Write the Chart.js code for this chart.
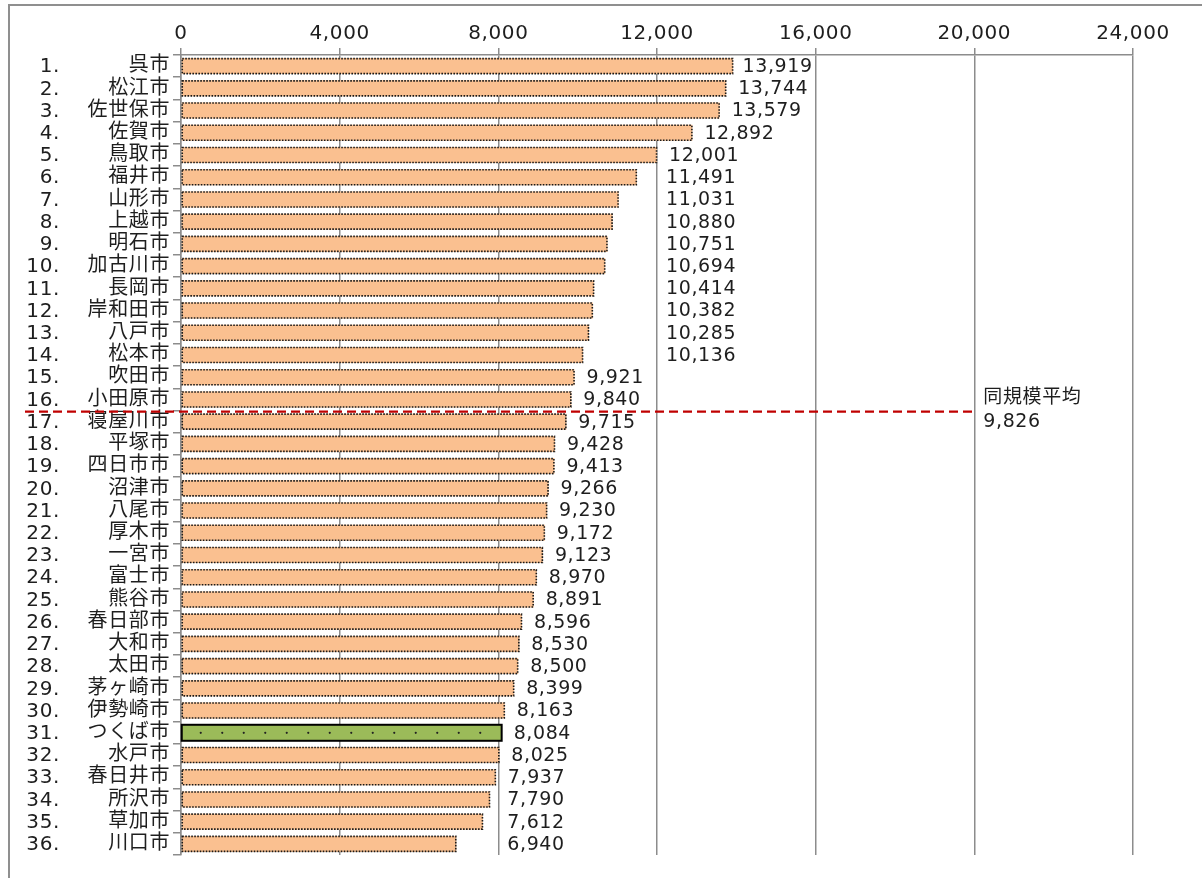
<!DOCTYPE html>
<html lang="ja">
<head>
<meta charset="utf-8">
<title>同規模都市比較</title>
<script src="https://cdn.jsdelivr.net/npm/chart.js@4.4.1/dist/chart.umd.min.js"></script>
<style>
  html, body { margin: 0; padding: 0; background: #fff; overflow: hidden; }
  #wrap { position: relative; width: 1202px; height: 878px; }
  #frame { position: absolute; left: 8px; top: 4px; width: 1400px; height: 1000px;
           border-left: 2px solid #8f8f8f; border-top: 2px solid #8f8f8f; pointer-events: none; }
  canvas { position: absolute; left: 0; top: 0; }
</style>
</head>
<body>
<div id="wrap">
  <canvas id="chart" width="1202" height="878"></canvas>
  <div id="frame"></div>
</div>
<script>
// ---- data ----
const cities = ['呉市','松江市','佐世保市','佐賀市','鳥取市','福井市','山形市','上越市','明石市','加古川市',
  '長岡市','岸和田市','八戸市','松本市','吹田市','小田原市','寝屋川市','平塚市','四日市市','沼津市',
  '八尾市','厚木市','一宮市','富士市','熊谷市','春日部市','大和市','太田市','茅ヶ崎市','伊勢崎市',
  'つくば市','水戸市','春日井市','所沢市','草加市','川口市'];
const values = [13919,13744,13579,12892,12001,11491,11031,10880,10751,10694,
  10414,10382,10285,10136,9921,9840,9715,9428,9413,9266,
  9230,9172,9123,8970,8891,8596,8530,8500,8399,8163,
  8084,8025,7937,7790,7612,6940];
const highlightCity = 'つくば市';
const averageLabel = '同規模平均';
const averageValue = 9826;
const xTickMin = 0;
const xTickMax = 24000;
const xTickStep = 4000;

// ---- styling ----
const FONT = "'DejaVu Sans', 'Noto Sans CJK JP', sans-serif";
const TEXT = '#1e1e1e';
const GRID = '#8c8c8c';
const BAR_FILL = '#FAC090';
const HI_FILL = '#9BBB59';
const fmt = v => Number(v).toLocaleString('en-US');

// Slightly wider text tracking for every label on the canvas
const tracking = {
  id: 'tracking',
  beforeDraw(chart) { chart.ctx.letterSpacing = '0.6px'; }
};

// Dotted outlines, highlight pattern and value labels for the bars
const barDecor = {
  id: 'barDecor',
  afterDatasetsDraw(chart) {
    const ctx = chart.ctx;
    const meta = chart.getDatasetMeta(0);
    const xs = chart.scales.x;
    const gridPx = xs.ticks.map(t => xs.getPixelForValue(t.value));
    ctx.save();
    meta.data.forEach((bar, i) => {
      const p = bar.getProps(['x', 'y', 'base', 'height'], true);
      const top = p.y - p.height / 2, h = p.height;
      const left = Math.min(p.base, p.x), w = Math.abs(p.x - p.base);
      if (cities[i] === highlightCity) {
        ctx.setLineDash([]);
        ctx.lineWidth = 2;
        ctx.strokeStyle = '#000';
        ctx.strokeRect(left, top, w, h);
        ctx.fillStyle = '#222';
        for (let dx = left + 19; dx < p.x - 2; dx += 21.5) {
          ctx.beginPath();
          ctx.arc(dx, p.y, 1.1, 0, Math.PI * 2);
          ctx.fill();
        }
      } else {
        ctx.setLineDash([1.6, 1.4]);
        ctx.lineWidth = 1.6;
        ctx.strokeStyle = '#1a1a1a';
        ctx.strokeRect(left + 0.5, top + 0.5, w - 1, h - 1);
      }
      // value label: kept clear of gridlines, pulled in or pushed past as room allows
      ctx.setLineDash([]);
      ctx.font = '19px ' + FONT;
      ctx.fillStyle = TEXT;
      ctx.textBaseline = 'middle';
      ctx.textAlign = 'left';
      const txt = fmt(values[i]);
      const tw = ctx.measureText(txt).width;
      let lx = p.x + 12;
      for (const g of gridPx) {
        if (g > p.x - 1 && lx < g + 9 && lx + tw > g - 2) {
          lx = (p.x + 6 + tw < g - 3) ? g - 3 - tw : g + 9;
        }
      }
      ctx.fillText(txt, lx, p.y + 1);
    });
    ctx.restore();
  }
};

// Rank numbers and the average reference line
const extras = {
  id: 'extras',
  afterDraw(chart) {
    const ctx = chart.ctx;
    const ys = chart.scales.y, xs = chart.scales.x;
    ctx.save();
    ctx.font = '20px ' + FONT;
    ctx.fillStyle = TEXT;
    ctx.textBaseline = 'middle';
    cities.forEach((c, i) => {
      const y = ys.getPixelForTick(i) + 1;
      ctx.textAlign = 'right';
      ctx.fillText(String(i + 1), 53, y);
      ctx.textAlign = 'left';
      ctx.fillText('.', 53, y);
    });
    // average falls between the last city above it and the first below it
    const after = values.findIndex(v => v < averageValue);
    const lineY = (ys.getPixelForTick(after - 1) + ys.getPixelForTick(after)) / 2 + 1;
    const xEnd = xs.getPixelForValue(20000);
    ctx.strokeStyle = '#C00000';
    ctx.lineWidth = 2.2;
    ctx.setLineDash([9, 5]);
    ctx.beginPath();
    ctx.moveTo(25, lineY);
    ctx.lineTo(xEnd + 2, lineY);
    ctx.stroke();
    ctx.setLineDash([]);
    ctx.font = '19px ' + FONT;
    ctx.textAlign = 'left';
    ctx.fillText(averageLabel, xEnd + 9, lineY - 13);
    ctx.fillText(fmt(averageValue), xEnd + 9, lineY + 11);
    ctx.restore();
  }
};

new Chart(document.getElementById('chart'), {
  type: 'bar',
  data: {
    labels: cities,
    datasets: [{
      data: values,
      backgroundColor: cities.map(c => c === highlightCity ? HI_FILL : BAR_FILL),
      borderWidth: 0,
      barPercentage: 0.72,
      categoryPercentage: 1
    }]
  },
  options: {
    indexAxis: 'y',
    responsive: false,
    animation: false,
    devicePixelRatio: 1,
    layout: { padding: { left: 0, top: 0, right: 69, bottom: 23 } },
    plugins: { legend: { display: false }, tooltip: { enabled: false } },
    scales: {
      x: {
        position: 'top',
        min: xTickMin,
        max: xTickMax,
        ticks: {
          stepSize: xTickStep,
          font: { family: FONT, size: 20 },
          color: TEXT,
          padding: 2,
          callback: v => fmt(v)
        },
        grid: { color: GRID, lineWidth: 1.5, tickLength: 7 },
        border: { color: GRID, width: 1.5 },
        afterFit: s => { s.height = 55; }
      },
      y: {
        ticks: {
          autoSkip: false,
          font: { family: FONT, size: 20 },
          color: TEXT,
          padding: 3
        },
        grid: { drawOnChartArea: false, offset: true, tickLength: 8, color: GRID, lineWidth: 1.5 },
        border: { color: GRID, width: 1.5 },
        afterFit: s => { s.width = 181; }
      }
    }
  },
  plugins: [tracking, barDecor, extras]
});
</script>
</body>
</html>
